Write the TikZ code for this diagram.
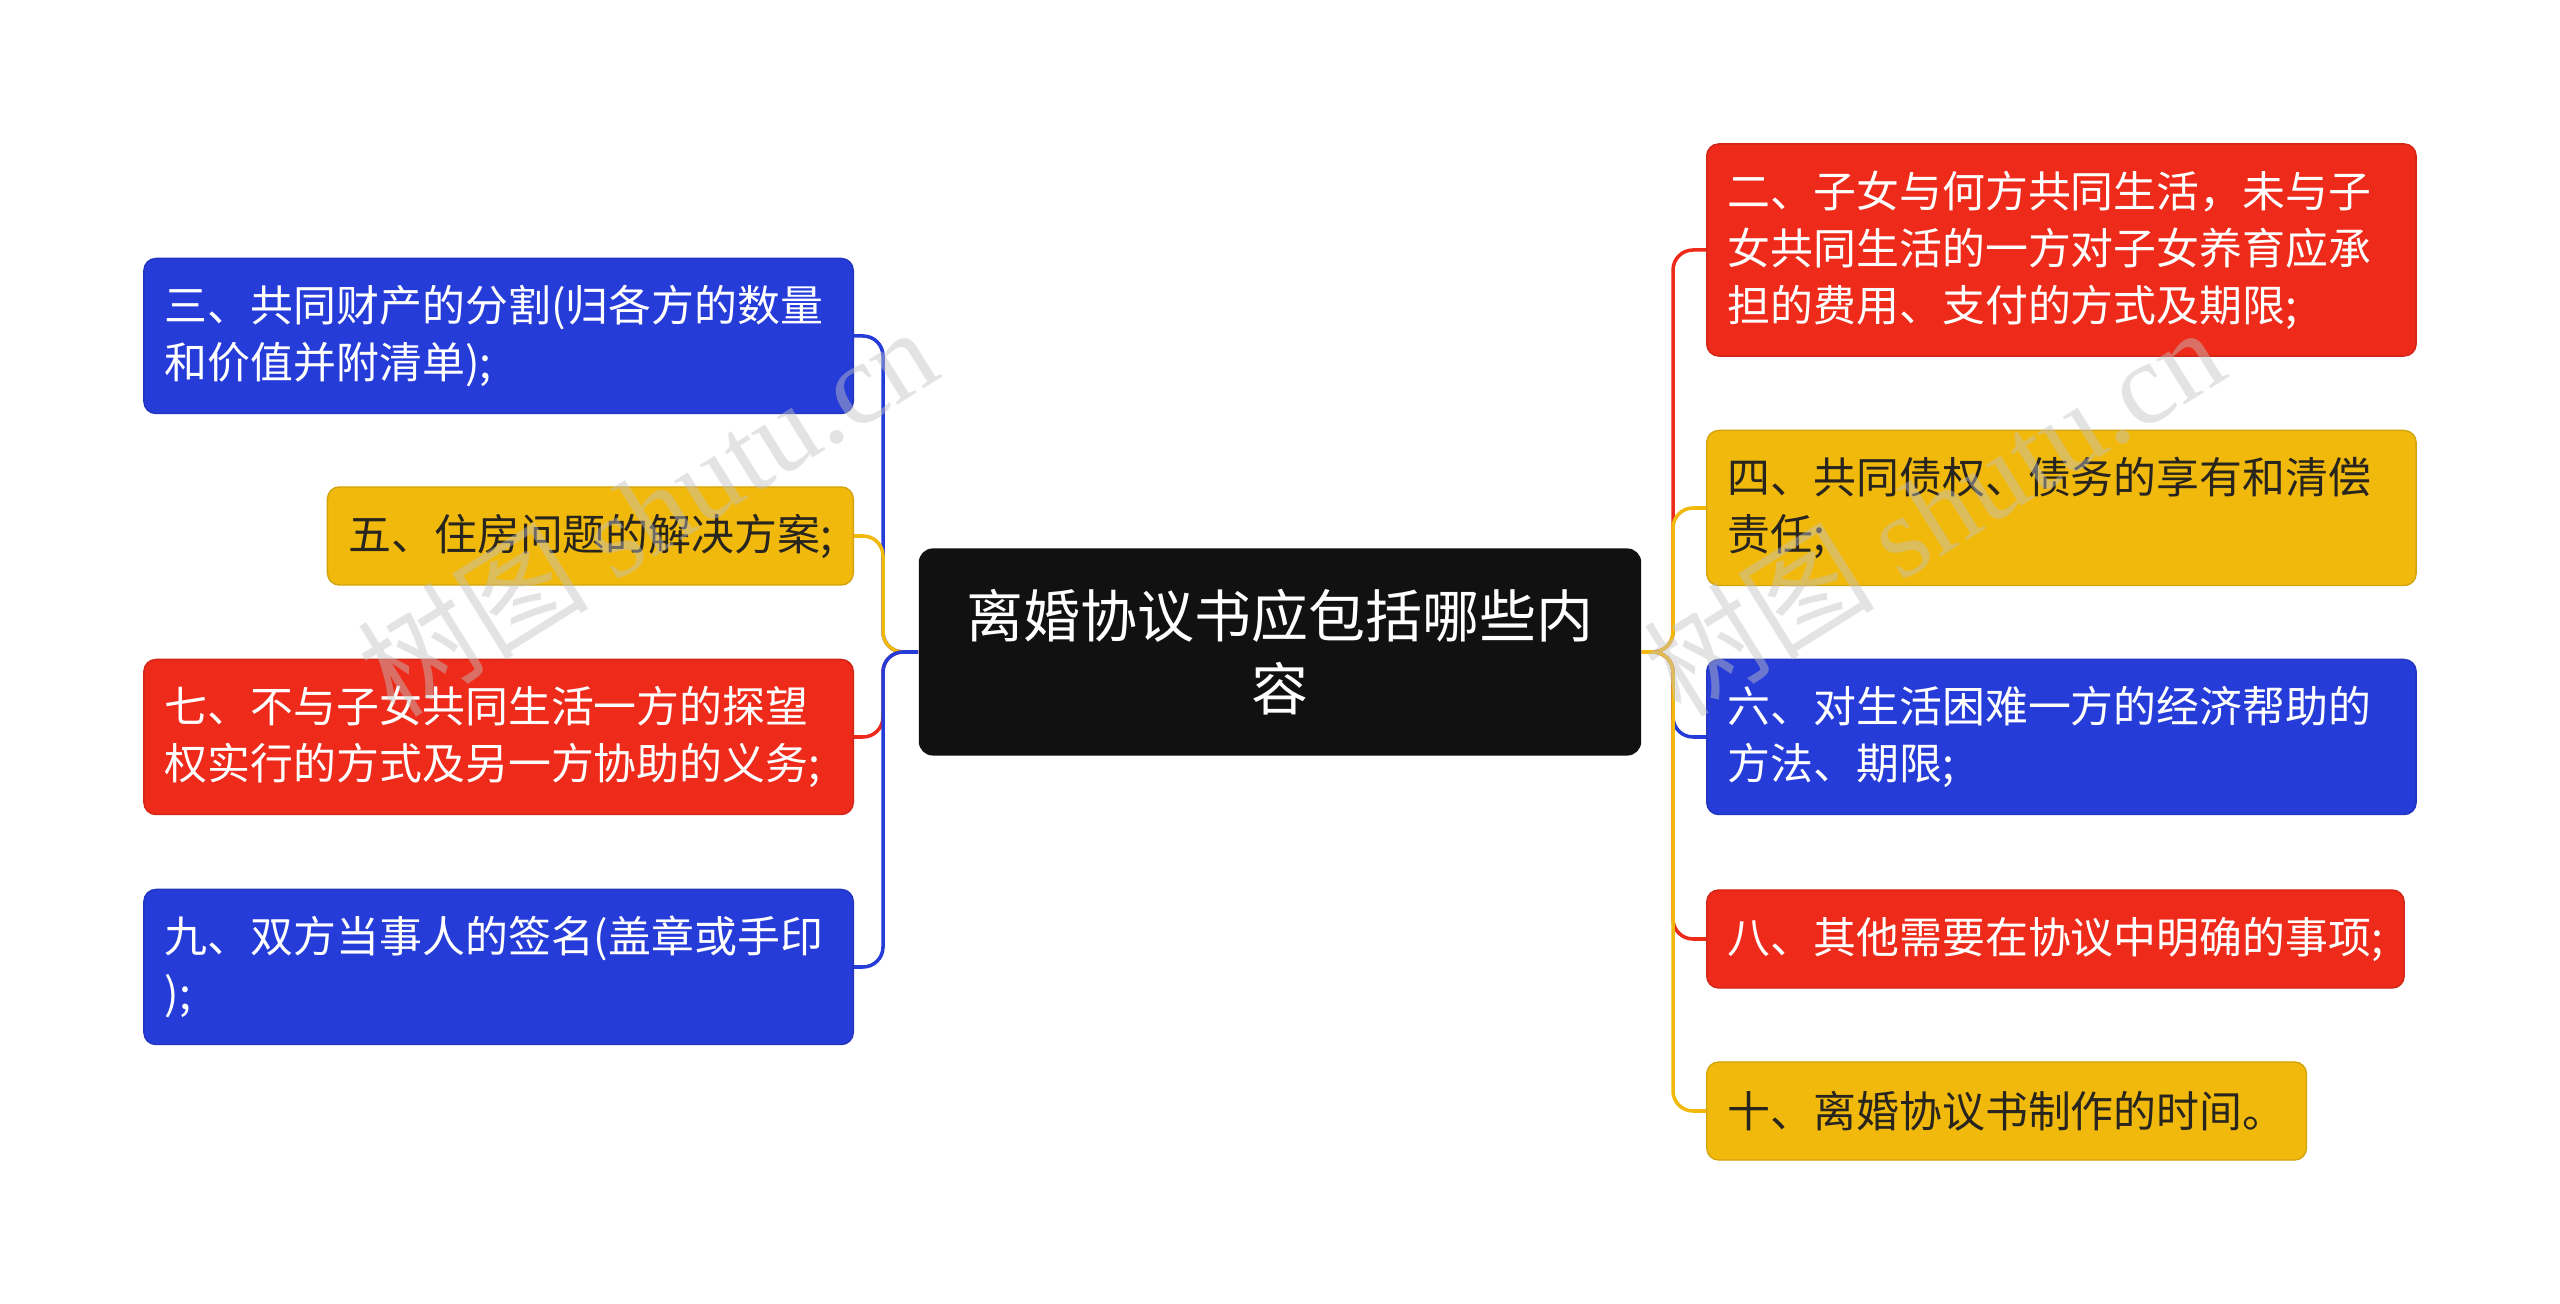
\documentclass[tikz,border=0pt]{standalone}
\usepackage{fontspec}
\setmainfont{Noto Sans CJK SC}
\newfontfamily\markfont{Liberation Serif}
\usetikzlibrary{positioning}
\definecolor{coal}{RGB}{17,17,17}
\definecolor{scarlet}{RGB}{238,43,26}
\definecolor{royal}{RGB}{38,60,216}
\definecolor{gold}{RGB}{240,185,12}
\definecolor{ink}{RGB}{40,36,30}
\definecolor{mark}{RGB}{195,195,195}
\tikzset{
  topic/.style={fill=coal,rounded corners=0.14cm,text=white,align=center,
    minimum width=7.22cm,minimum height=2.07cm,inner sep=0pt,
    font=\fontsize{16.2pt}{20.7pt}\selectfont},
  leaf/.style={fill=#1,draw=#1!88!black,line width=0.4pt,rounded corners=0.12cm,
    text=white,align=left,inner xsep=0.21cm,inner ysep=0pt,
    font=\fontsize{12.2pt}{16.2pt}\selectfont},
  leaf/.default=royal,
  wide/.style={text width=6.67cm},
  link/.style={draw=#1,line width=1pt,rounded corners=0.2cm},
  wmark/.style={text=mark,opacity=0.45,rotate=32,font=\fontsize{33pt}{33pt}\selectfont},
}

\begin{document}
\begin{tikzpicture}[x=0.01cm,y=-0.01cm]
  \fill[white] (0,0) rectangle (2560,1304);
  \useasboundingbox (0,0) rectangle (2560,1304);

  \node[topic] (root) at (1280,652) {离婚协议书应包括哪些内\\容};

  % right branch
  \node[leaf=scarlet,wide,anchor=west,minimum height=2.12cm] (r2) at (1706,250)
    {二、子女与何方共同生活，未与子\\女共同生活的一方对子女养育应承\\担的费用、支付的方式及期限;};
  \node[leaf=gold,text=ink,wide,anchor=west,minimum height=1.55cm] (r4) at (1706,508)
    {四、共同债权、债务的享有和清偿\\责任;};
  \node[leaf=royal,wide,anchor=west,minimum height=1.55cm] (r6) at (1706,737)
    {六、对生活困难一方的经济帮助的\\方法、期限;};
  \node[leaf=scarlet,anchor=west,minimum height=0.98cm] (r8) at (1706,939)
    {八、其他需要在协议中明确的事项;};
  \node[leaf=gold,text=ink,anchor=west,minimum height=0.98cm] (r10) at (1706,1111)
    {十、离婚协议书制作的时间。};

  % left branch
  \node[leaf=royal,wide,anchor=east,minimum height=1.55cm] (l3) at (854,336)
    {三、共同财产的分割(归各方的数量\\和价值并附清单);};
  \node[leaf=gold,text=ink,anchor=east,minimum height=0.98cm] (l5) at (854,536)
    {五、住房问题的解决方案;};
  \node[leaf=scarlet,wide,anchor=east,minimum height=1.55cm] (l7) at (854,737)
    {七、不与子女共同生活一方的探望\\权实行的方式及另一方协助的义务;};
  \node[leaf=royal,wide,anchor=east,minimum height=1.55cm] (l9) at (854,967)
    {九、双方当事人的签名(盖章或手印\\);};

  \coordinate (ltrunk) at (883,652);
  \coordinate (rtrunk) at (1673,652);

  \draw[link=royal] (root.west) -- (ltrunk) |- (l3.east);
  \draw[link=gold] (root.west) -- (ltrunk) |- (l5.east);
  \draw[link=scarlet] (root.west) -- (ltrunk) |- (l7.east);
  \draw[link=royal] (root.west) -- (ltrunk) |- (l9.east);

  \draw[link=scarlet] (root.east) -- (rtrunk) |- (r2.west);
  \draw[link=gold] (root.east) -- (rtrunk) |- (r4.west);
  \draw[link=royal] (root.east) -- (rtrunk) |- (r6.west);
  \draw[link=scarlet] (root.east) -- (rtrunk) |- (r8.west);
  \draw[link=gold] (root.east) -- (rtrunk) |- (r10.west);

  % watermark
  \node[wmark] (wm1) at (647,510) {树图 {\markfont shutu.cn}};
  \node[wmark] (wm2) at (1933,510) {树图 {\markfont shutu.cn}};
\end{tikzpicture}
\end{document}
